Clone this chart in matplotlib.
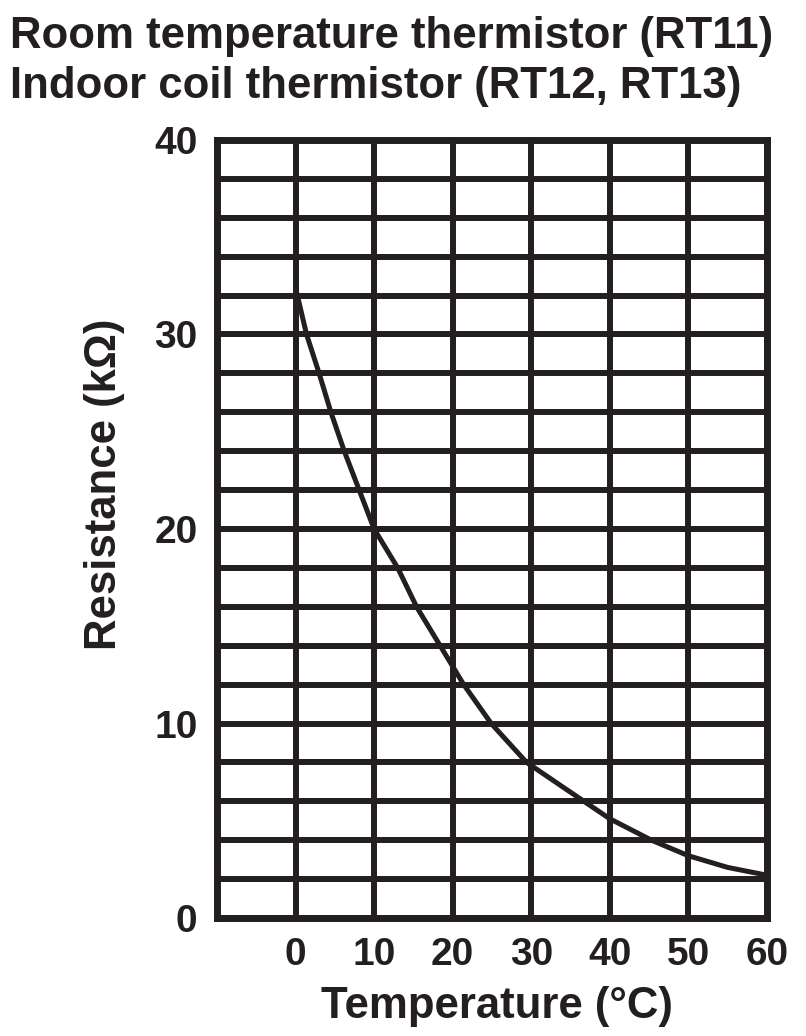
import numpy as np
import matplotlib
matplotlib.use("Agg")
import matplotlib.pyplot as plt

temperatura = [0, 1.4, 3.0, 4.5, 6.2, 8.1, 10, 13.0, 15.4, 18.4, 21.4, 24.9,
               29.4, 36.7, 40, 45.3, 50, 55, 60]
resistencia = [32.4, 30, 28, 26, 24, 22, 20, 18, 16, 14, 12, 10,
               8, 6, 5.1, 4, 3.2, 2.6, 2.2]

titulo = ["Room temperature thermistor (RT11)", "Indoor coil thermistor (RT12, RT13)"]
xticks = [0, 10, 20, 30, 40, 50, 60]
yticks = [0, 10, 20, 30, 40]

COR = "#231f20"
FONTE = ["Liberation Sans", "DejaVu Sans"]

fig = plt.figure(figsize=(8.06, 10.36), dpi=100)
ax = fig.add_axes([217/806, 1 - 918/1036, 550/806, 778/1036])

ax.set_xlim(-10, 60)
ax.set_ylim(0, 40)

# grade
for x in np.arange(-10, 61, 10):
    ax.axvline(x, color=COR, lw=4.3, zorder=1)
for y in np.arange(0, 41, 2):
    ax.axhline(y, color=COR, lw=4.3, zorder=1)

ax.plot(temperatura, resistencia, color=COR, lw=3.6, zorder=3,
        solid_joinstyle="round", solid_capstyle="butt")

for s in ax.spines.values():
    s.set_linewidth(5)
    s.set_color(COR)

ax.set_xticks(xticks)
ax.set_yticks(yticks)
ax.tick_params(length=0)
ax.tick_params(axis="x", pad=14)
ax.tick_params(axis="y", pad=14)
for lab in ax.get_xticklabels() + ax.get_yticklabels():
    lab.set_fontfamily(FONTE)
    lab.set_fontweight("bold")
    lab.set_fontsize(28)
    lab.set_color(COR)

ax.set_xlabel("Temperature (°C)", fontsize=31.5, fontweight="bold", family=FONTE, color=COR)
ax.xaxis.set_label_coords(0.509, -0.087)
ax.set_ylabel("Resistance (kΩ)", fontsize=31.5, fontweight="bold", family=FONTE, color=COR)
ax.yaxis.set_label_coords(-0.167, 0.557)

fig.text(10/806, 1 - 48/1036, titulo[0], fontsize=31.5, fontweight="bold",
         family=FONTE, color=COR, ha="left", va="baseline")
fig.text(10/806, 1 - 98/1036, titulo[1], fontsize=31.5, fontweight="bold",
         family=FONTE, color=COR, ha="left", va="baseline")

fig.savefig("out.png", dpi=100)
